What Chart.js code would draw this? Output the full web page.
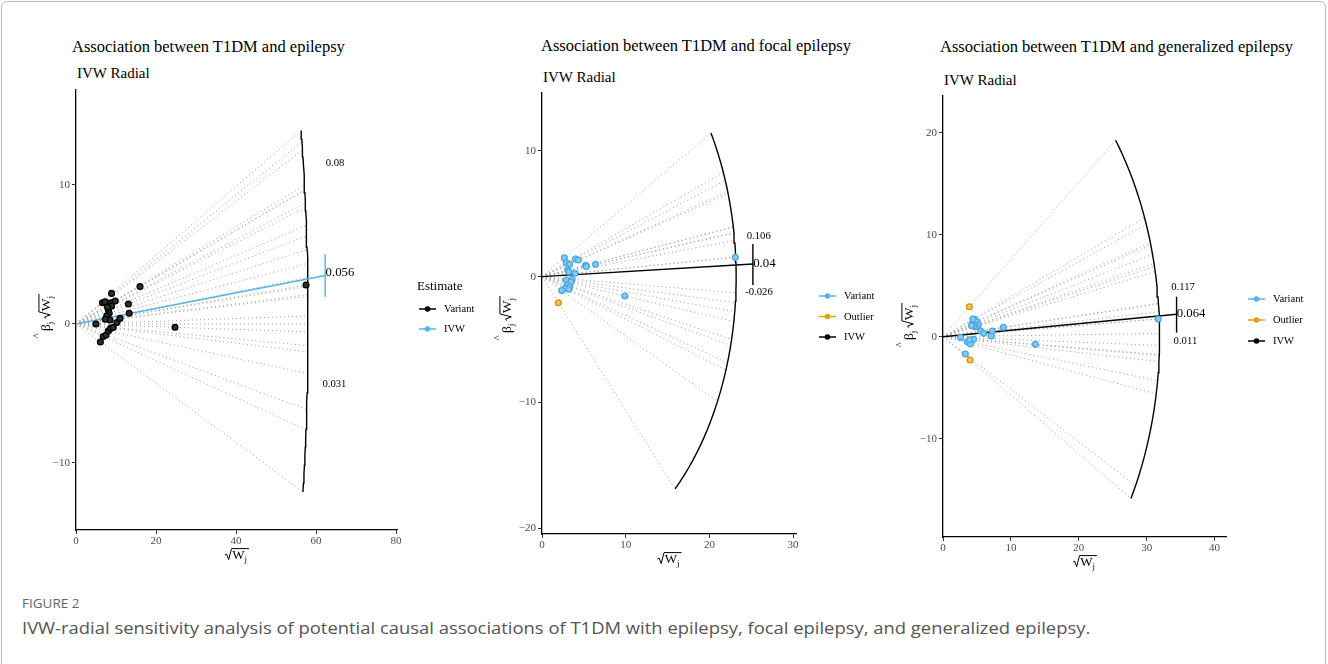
<!DOCTYPE html>
<html>
<head>
<meta charset="utf-8">
<title>IVW radial plots</title>
<script src="https://cdn.jsdelivr.net/npm/chart.js@4.4.1/dist/chart.umd.min.js"></script>
<style>
  html, body { margin: 0; padding: 0; background: #fff; }
  body { width: 1328px; height: 664px; position: relative; overflow: hidden; font-family: "Liberation Serif", "Times New Roman", serif; }
  #frame { position: absolute; left: 1px; top: 1px; width: 1323px; height: 720px; border: 1px solid #b8b8b8; border-radius: 6px; }
  canvas { position: absolute; }
  .ttl { position: absolute; font-size: 16.5px; line-height: 16.5px; white-space: nowrap; color: #000; }
  .sub { position: absolute; font-size: 15px; line-height: 15px; white-space: nowrap; color: #000; }
  #fig { position: absolute; left: 22px; top: 595px; font-family: "Open Sans", sans-serif; font-size: 13.5px; line-height: 17px; color: #666; }
  #cap { position: absolute; left: 22px; top: 618px; font-family: "Open Sans", sans-serif; font-size: 16px; line-height: 20px; color: #555; white-space: nowrap; transform-origin: left center; }
</style>
</head>
<body>
<div id="frame"></div>

<div class="ttl" style="left:72px;top:39px">Association between T1DM and epilepsy</div>
<div class="sub" style="left:77px;top:66px">IVW Radial</div>
<div class="ttl" style="left:541px;top:38px">Association between T1DM and focal epilepsy</div>
<div class="sub" style="left:543px;top:70px">IVW Radial</div>
<div class="ttl" style="left:940px;top:39px">Association between T1DM and generalized epilepsy</div>
<div class="sub" style="left:944px;top:73px">IVW Radial</div>

<canvas id="c1" width="500" height="500" style="left:0px;top:80px"></canvas>
<canvas id="c2" width="410" height="500" style="left:490px;top:80px"></canvas>
<canvas id="c3" width="438" height="500" style="left:890px;top:80px"></canvas>

<div id="fig">FIGURE 2</div>
<div id="cap">IVW-radial sensitivity analysis of potential causal associations of T1DM with epilepsy, focal epilepsy, and generalized epilepsy.</div>

<script>
// epilepsy: sqrt(Wj) and beta_j*sqrt(Wj) per variant
const epiX = [5.0, 6.1, 6.8, 7.5, 8.1, 8.7, 9.3, 10.2, 11.0, 13.3, 13.1, 16.0, 24.75, 57.5, 6.6, 7.25, 8.9, 8.75, 9.8, 8.1, 8.3, 7.7, 8.5, 8.9, 7.3, 7.9];
const epiY = [0.0, -1.3, -0.9, -0.8, -0.5, -0.3, -0.25, 0.1, 0.4, 0.77, 1.44, 2.7, -0.24, 2.8, 1.53, 1.6, 2.2, 1.53, 1.65, 1.0, 0.77, 0.58, 0.29, 1.3, 0.34, 1.2];

// focal epilepsy
const focX = [2.67, 2.9, 3.3, 3.07, 3.2, 4.0, 4.35, 5.2, 5.3, 6.4, 3.95, 2.9, 3.6, 3.47, 3.0, 3.3, 2.75, 2.35, 3.23, 9.9, 23.1];
const focY = [1.51, 1.11, 0.98, 0.53, 0.4, 1.4, 1.33, 0.9, 0.8, 0.98, 0.27, -0.26, -0.2, -0.42, -0.66, -0.8, -0.93, -1.11, -1.0, -1.54, 1.54];
const focOutX = [1.95];
const focOutY = [-2.07];

// generalized epilepsy
const genX = [2.6, 3.3, 3.6, 4.03, 4.5, 4.33, 4.62, 5.0, 5.2, 4.8, 4.5, 5.55, 6.0, 7.27, 7.12, 8.9, 13.6, 31.7, 4.4, 4.2, 3.9];
const genY = [-0.07, -1.7, -0.49, -0.72, -0.26, 1.31, 1.7, 1.47, 1.15, 0.98, 1.04, 0.56, 0.33, 0.56, 0.07, 0.92, -0.75, 1.73, 1.73, 1.1, -0.3];
const genOutX = [3.88, 3.98];
const genOutY = [2.94, -2.28];

// IVW estimates, radius of the scale circle, IVW line end and its bar
const ivwEst = [0.056, 0.04, 0.064];
const radius = [58, 23.2, 31.9];
const ivwEnd = [62.3, 25.2, 34.4];
const ivwBar = [[1.95, 5.0], [-0.66, 2.6], [0.39, 3.92]];

// axes
const xTicks1 = [0, 20, 40, 60, 80];
const yTicks1 = [-10, 0, 10];
const xTicks2 = [0, 10, 20, 30];
const yTicks2 = [-20, -10, 0, 10];
const xTicks3 = [0, 10, 20, 30, 40];
const yTicks3 = [-10, 0, 10, 20];
const xRange = [[0, 80.25], [0, 30.35], [0, 41.68]];
const yRange = [[-14.82, 16.83], [-20.47, 14.61], [-19.64, 23.6]];

const BLUE = '#56B4E9', ORANGE = '#E69F00', BLACK = '#000000';
const SERIF = '"Liberation Serif", "Times New Roman", serif';

Chart.defaults.font.family = SERIF;
Chart.defaults.color = '#4d4d4d';

function minus(v) { return v < 0 ? '\u2212' + Math.abs(v) : String(v); }

function rootWidth(ctx, fs) {
  ctx.font = fs + 'px ' + SERIF;
  const ww = ctx.measureText('W').width;
  ctx.font = Math.round(fs * 0.7) + 'px ' + SERIF;
  const wj = ctx.measureText('j').width;
  return { rad: fs * 0.55, ww, wj, total: fs * 0.55 + ww + wj + 1 };
}

// draws sqrt(W_j) with a hand-made radical, returns its width
function drawRootW(ctx, x, y, fs) {
  const m = rootWidth(ctx, fs);
  const top = y - fs * 0.8;
  ctx.strokeStyle = '#000';
  ctx.lineWidth = 1;
  ctx.beginPath();
  ctx.moveTo(x, y - fs * 0.3);
  ctx.lineTo(x + fs * 0.12, y - fs * 0.38);
  ctx.lineTo(x + fs * 0.28, y + fs * 0.04);
  ctx.lineTo(x + fs * 0.5, top);
  ctx.lineTo(x + m.total + 1, top);
  ctx.stroke();
  ctx.font = fs + 'px ' + SERIF;
  ctx.fillText('W', x + m.rad, y);
  ctx.font = Math.round(fs * 0.7) + 'px ' + SERIF;
  ctx.fillText('j', x + m.rad + m.ww, y + fs * 0.22);
  return m.total;
}

function drawYTitle(ctx, cx, cy, fs) {
  ctx.save();
  ctx.translate(cx, cy);
  ctx.rotate(-Math.PI / 2);
  ctx.textAlign = 'left';
  ctx.textBaseline = 'alphabetic';
  ctx.font = fs + 'px ' + SERIF;
  const wb = ctx.measureText('\u03B2').width;
  ctx.font = Math.round(fs * 0.7) + 'px ' + SERIF;
  const wj = ctx.measureText('j').width;
  const total = wb + wj + 3 + rootWidth(ctx, fs).total;
  const x = -total / 2, y = fs * 0.35;
  ctx.fillStyle = '#000';
  ctx.font = Math.round(fs * 0.8) + 'px ' + SERIF;
  ctx.fillText('^', x - fs * 0.55, y - fs * 0.75);
  ctx.font = fs + 'px ' + SERIF;
  ctx.fillText('\u03B2', x, y);
  ctx.font = Math.round(fs * 0.7) + 'px ' + SERIF;
  ctx.fillText('j', x + wb, y + fs * 0.22);
  drawRootW(ctx, x + wb + wj + 3, y, fs);
  ctx.restore();
}

const decor = {
  id: 'decor',
  afterDraw(chart, args, o) {
    const ctx = chart.ctx, xs = chart.scales.x, ys = chart.scales.y, ca = chart.chartArea;
    ctx.save();
    ctx.fillStyle = '#000';
    ctx.textBaseline = 'middle';
    o.notes.forEach(n => {
      ctx.font = n.size + 'px ' + SERIF;
      ctx.textAlign = n.align;
      ctx.fillText(n.text, xs.getPixelForValue(n.x), ys.getPixelForValue(n.y));
    });

    const lg = o.legend;
    ctx.textAlign = 'left';
    if (lg.title) {
      ctx.font = '13px ' + SERIF;
      ctx.fillStyle = '#000';
      ctx.fillText(lg.title, lg.x - 2, lg.y - 22);
    }
    lg.items.forEach((it, i) => {
      const yy = lg.y + i * lg.gap;
      ctx.strokeStyle = it.color;
      ctx.lineWidth = 1.5;
      ctx.beginPath();
      ctx.moveTo(lg.x, yy);
      ctx.lineTo(lg.x + 17, yy);
      ctx.stroke();
      ctx.fillStyle = it.color;
      ctx.beginPath();
      ctx.arc(lg.x + 8.5, yy, 2.8, 0, Math.PI * 2);
      ctx.fill();
      ctx.fillStyle = '#000';
      ctx.font = '10.5px ' + SERIF;
      ctx.fillText(it.label, lg.x + 25, yy + 0.5);
    });

    // axis titles
    ctx.textBaseline = 'alphabetic';
    ctx.fillStyle = '#000';
    const fs = 13;
    const w = rootWidth(ctx, fs).total;
    drawRootW(ctx, (ca.left + ca.right) / 2 - w / 2, ca.bottom + 29, fs);
    drawYTitle(ctx, o.yTitle.x, o.yTitle.y, 13.5);
    ctx.restore();
  }
};

function buildDatasets(p) {
  const pts = [];
  p.groups.forEach(g => g.x.forEach((x, i) => pts.push([x, g.y[i]])));
  const ang = pts.map(([x, y]) => Math.atan2(y, x));
  const ds = [];
  // dotted rays from the origin through each variant to the scale circle
  ang.forEach(a => ds.push({
    data: [{ x: 0, y: 0 }, { x: p.R * Math.cos(a), y: p.R * Math.sin(a) }],
    showLine: true, borderColor: '#a9a9a9', borderWidth: 1, borderDash: [1.2, 2.8],
    pointRadius: 0, order: 3
  }));
  const lo = Math.min(...ang), hi = Math.max(...ang);
  const arc = [];
  for (let k = 0; k <= 40; k++) {
    const a = lo + (hi - lo) * k / 40;
    arc.push({ x: p.R * Math.cos(a), y: p.R * Math.sin(a) });
  }
  ds.push({ data: arc, showLine: true, borderColor: '#000', borderWidth: 1.4, pointRadius: 0, order: 2 });
  ds.push({
    data: [{ x: 0, y: 0 }, { x: p.end, y: p.ivw * p.end }],
    showLine: true, borderColor: p.ivwColor, borderWidth: 1.4, pointRadius: 0, order: 1
  });
  ds.push({
    data: [{ x: p.end, y: p.bar[0] }, { x: p.end, y: p.bar[1] }],
    showLine: true, borderColor: p.ivwColor, borderWidth: 1.4, pointRadius: 0, order: 1
  });
  p.groups.forEach(g => ds.push({
    label: g.label,
    data: g.x.map((x, i) => ({ x, y: g.y[i] })),
    showLine: false, pointRadius: 2.9, pointBackgroundColor: g.fill,
    pointBorderColor: g.color, pointBorderWidth: 1.3, order: 0
  }));
  return ds;
}

function makePanel(id, p) {
  new Chart(document.getElementById(id), {
    type: 'scatter',
    data: { datasets: buildDatasets(p) },
    plugins: [decor],
    options: {
      responsive: false,
      animation: false,
      devicePixelRatio: 1,
      layout: { padding: p.pad },
      elements: { line: { tension: 0 } },
      plugins: {
        legend: { display: false },
        tooltip: { enabled: false },
        decor: { notes: p.notes, legend: p.legend, yTitle: p.yTitle }
      },
      scales: {
        x: {
          type: 'linear', min: p.xr[0], max: p.xr[1],
          afterBuildTicks: s => { s.ticks = p.xt.map(v => ({ value: v })); },
          afterFit: s => { s.height = 24; },
          grid: { drawOnChartArea: false, tickLength: 4, color: '#333' },
          border: { color: '#000', width: 1.3 },
          ticks: { font: { size: 11 }, color: '#4d4d4d', padding: 1, maxRotation: 0, autoSkip: false, callback: minus }
        },
        y: {
          type: 'linear', min: p.yr[0], max: p.yr[1],
          afterBuildTicks: s => { s.ticks = p.yt.map(v => ({ value: v })); },
          afterFit: s => { s.width = 40; },
          grid: { drawOnChartArea: false, tickLength: 4, color: '#333' },
          border: { color: '#000', width: 1.3 },
          ticks: { font: { size: 11 }, color: '#4d4d4d', padding: 2, autoSkip: false, callback: minus }
        }
      }
    }
  });
}

makePanel('c1', {
  groups: [{ label: 'Variant', x: epiX, y: epiY, color: '#000', fill: '#2e2e2e' }],
  R: radius[0], ivw: ivwEst[0], end: ivwEnd[0], bar: ivwBar[0], ivwColor: BLUE,
  xr: xRange[0], yr: yRange[0], xt: xTicks1, yt: yTicks1,
  pad: { left: 36, top: 10, right: 103, bottom: 26 },
  notes: [
    { text: '0.08', x: 64.75, y: 11.58, size: 10.7, align: 'center' },
    { text: '0.056', x: 62.4, y: 3.67, size: 12.8, align: 'left' },
    { text: '0.031', x: 64.6, y: -4.32, size: 10.7, align: 'center' }
  ],
  legend: { x: 419, y: 229, gap: 20, title: 'Estimate',
    items: [{ label: 'Variant', color: BLACK }, { label: 'IVW', color: BLUE }] },
  yTitle: { x: 45, y: 233 }
});

makePanel('c2', {
  groups: [
    { label: 'Variant', x: focX, y: focY, color: '#4aa8df', fill: '#86c8ef' },
    { label: 'Outlier', x: focOutX, y: focOutY, color: '#db9300', fill: '#f0c264' }
  ],
  R: radius[1], ivw: ivwEst[1], end: ivwEnd[1], bar: ivwBar[1], ivwColor: BLACK,
  xr: xRange[1], yr: yRange[1], xt: xTicks2, yt: yTicks2,
  pad: { left: 12, top: 13, right: 104, bottom: 22 },
  notes: [
    { text: '0.106', x: 25.9, y: 3.24, size: 10.7, align: 'center' },
    { text: '0.04', x: 25.23, y: 1.01, size: 12.8, align: 'left' },
    { text: '-0.026', x: 25.93, y: -1.22, size: 10.7, align: 'center' }
  ],
  legend: { x: 329, y: 216, gap: 20.5, title: null,
    items: [{ label: 'Variant', color: BLUE }, { label: 'Outlier', color: ORANGE }, { label: 'IVW', color: BLACK }] },
  yTitle: { x: 16, y: 235 }
});

makePanel('c3', {
  groups: [
    { label: 'Variant', x: genX, y: genY, color: '#4aa8df', fill: '#86c8ef' },
    { label: 'Outlier', x: genOutX, y: genOutY, color: '#db9300', fill: '#f0c264' }
  ],
  R: radius[2], ivw: ivwEst[2], end: ivwEnd[2], bar: ivwBar[2], ivwColor: BLACK,
  xr: xRange[2], yr: yRange[2], xt: xTicks3, yt: yTicks3,
  pad: { left: 13, top: 16, right: 102, bottom: 19 },
  notes: [
    { text: '0.117', x: 35.35, y: 4.87, size: 10.7, align: 'center' },
    { text: '0.064', x: 34.42, y: 2.27, size: 12.8, align: 'left' },
    { text: '0.011', x: 35.7, y: -0.42, size: 10.7, align: 'center' }
  ],
  legend: { x: 358, y: 219, gap: 21, title: null,
    items: [{ label: 'Variant', color: BLUE }, { label: 'Outlier', color: ORANGE }, { label: 'IVW', color: BLACK }] },
  yTitle: { x: 18, y: 242 }
});

// stretch the caption line to the width it has in the figure
const cap = document.getElementById('cap');
cap.style.transform = 'scaleX(' + (1068 / cap.offsetWidth) + ')';
</script>
</body>
</html>
